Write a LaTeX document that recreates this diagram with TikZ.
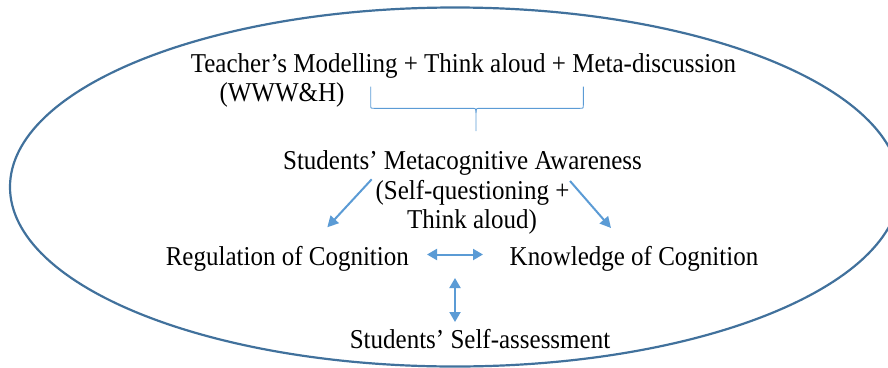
\documentclass[tikz,border=0pt]{standalone}
\usepackage{graphicx}
\usepackage{fontspec}
\setmainfont{Liberation Serif}
\usetikzlibrary{arrows.meta}
\definecolor{rim}{HTML}{41719C}
\definecolor{arr}{HTML}{5B9BD5}
\newcommand\tallword[1]{\scalebox{1}[1.09]{#1}}
\begin{document}
\begin{tikzpicture}[x=1pt,y=-1pt,
  lbl/.style={inner sep=0pt, anchor=base, font=\fontsize{25}{30}\selectfont},
  link/.style={arr, line width=2pt, -{Triangle[length=11pt,width=11pt]}},
  duallink/.style={arr, line width=2pt, {Triangle[length=10pt,width=11pt]}-{Triangle[length=10pt,width=11pt]}},
  bracket/.style={arr, line width=0.9pt}]
\useasboundingbox (0,0) rectangle (888,367);
% outer frame
\draw[rim, line width=2.2pt] (455,187) ellipse [x radius=445, y radius=179.5];
% texts
\node[lbl] (teacher) at (463.5,72) {\tallword{Teacher’s Modelling + Think aloud + Meta-discussion}};
\node[lbl] (www) at (282,101) {\tallword{(WWW\&H)}};
\node[lbl] (aware) at (462.5,169.3) {\tallword{Students’ Metacognitive Awareness}};
\node[lbl] (selfq) at (472.5,199.3) {\tallword{(Self-questioning +}};
\node[lbl] (think) at (472,228) {\tallword{Think aloud)}};
\node[lbl] (reg) at (287.3,265) {\tallword{Regulation of Cognition}};
\node[lbl] (know) at (634,265) {\tallword{Knowledge of Cognition}};
\node[lbl] (assess) at (480,348) {\tallword{Students’ Self-assessment}};
% brace under the first line
\coordinate (bl) at (370.7,86.7);
\coordinate (br) at (583.3,86.7);
\coordinate (bt) at (476,131);
\draw[bracket] (bl) -- (370.7,105) .. controls (370.7,108.3) .. (374,108.3)
  -- (471,108.3) .. controls (476,108.3) .. (476,113) -- (bt);
\draw[bracket] (br) -- (583.3,105) .. controls (583.3,108.3) .. (580,108.3)
  -- (481,108.3) .. controls (476,108.3) .. (476,113);
% connectors
\coordinate (a1) at (371.7,179.3);
\coordinate (a2) at (327.3,227.3);
\coordinate (b1) at (570,181);
\coordinate (b2) at (611,228);
\coordinate (h1) at (427,254.5);
\coordinate (h2) at (483,254.5);
\coordinate (v1) at (455,278);
\coordinate (v2) at (455,322);
\draw[link] (a1) -- (a2);
\draw[link] (b1) -- (b2);
\draw[duallink] (h1) -- (h2);
\draw[duallink] (v1) -- (v2);
\end{tikzpicture}
\end{document}
